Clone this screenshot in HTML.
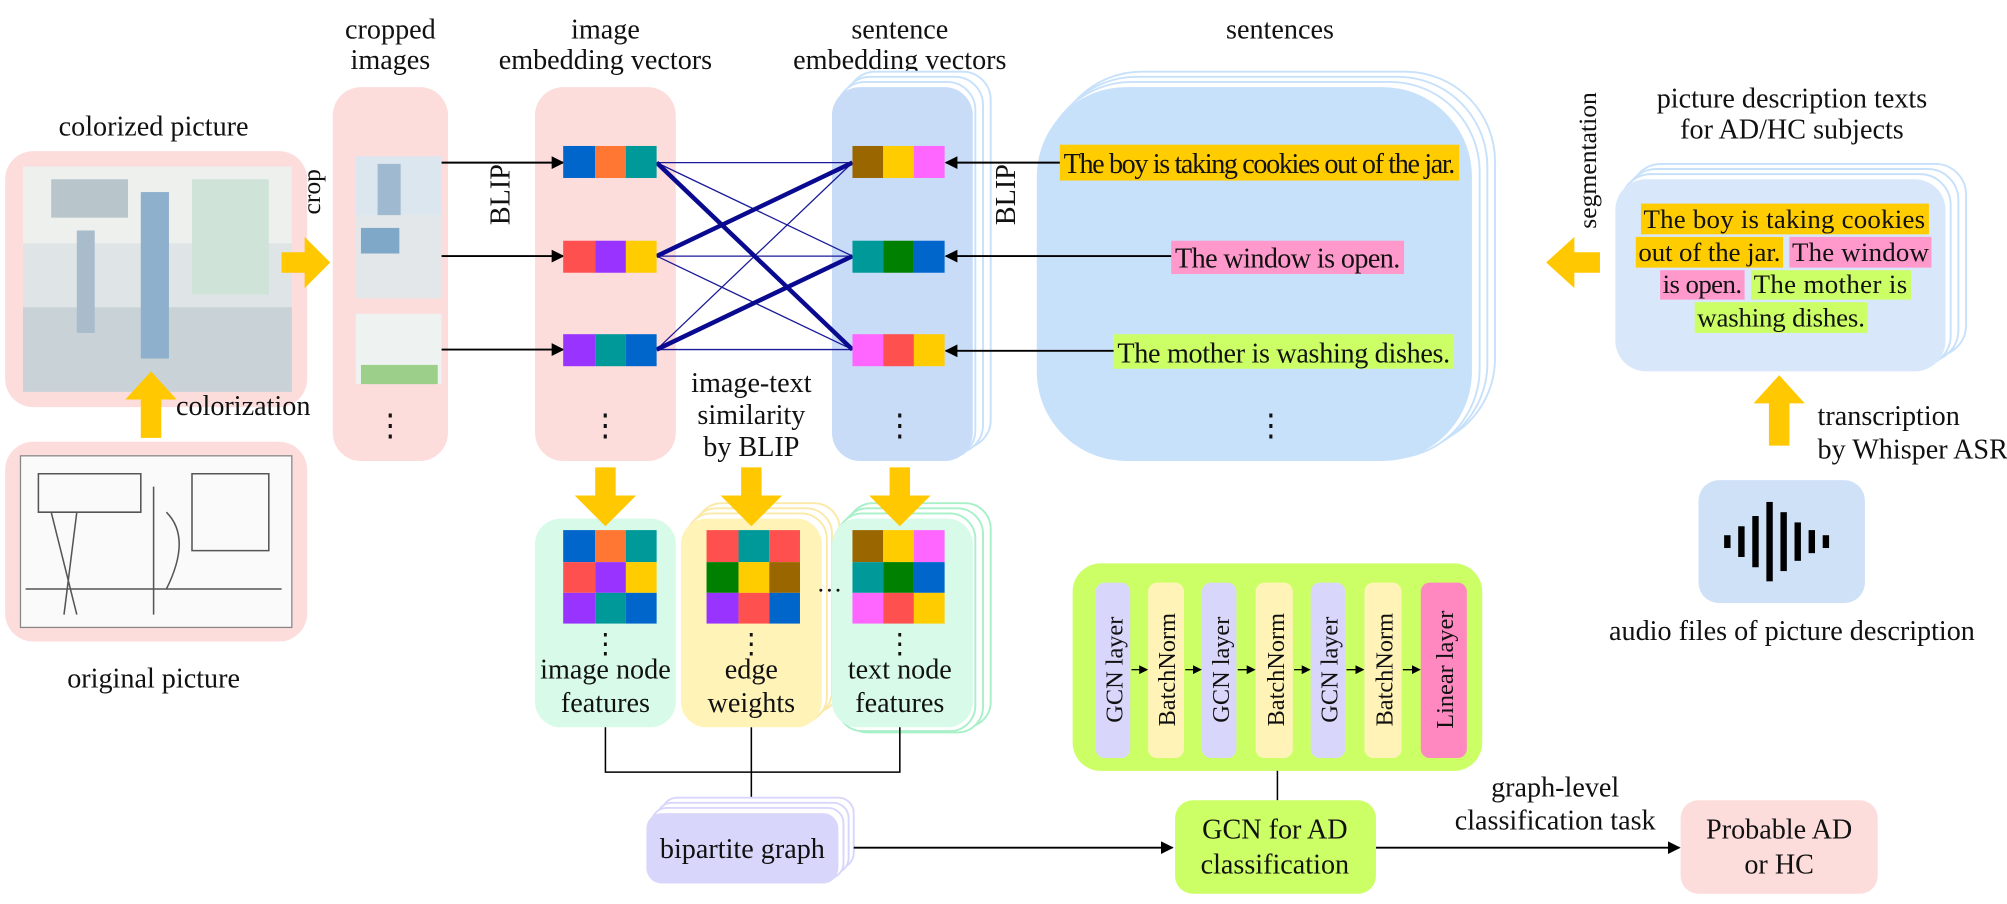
<!DOCTYPE html>
<html><head><meta charset="utf-8"><style>
body{margin:0;background:#fff}
svg{display:block}
text{font-family:"Liberation Serif",serif;font-size:22px;fill:#111}
</style></head><body>
<svg width="2007" height="904" viewBox="0 0 1568 706" preserveAspectRatio="none" xmlns="http://www.w3.org/2000/svg">
<defs>
<marker id="a" markerWidth="10" markerHeight="10" refX="9" refY="5" orient="auto" markerUnits="userSpaceOnUse"><path d="M0,0 L10,5 L0,10z" fill="#000"/></marker>
<marker id="s" markerWidth="7" markerHeight="7" refX="6" refY="3.5" orient="auto" markerUnits="userSpaceOnUse"><path d="M0,0 L7,3.5 L0,7z" fill="#000"/></marker>
</defs>

<!-- colorized picture -->
<text x="120" y="106" text-anchor="middle">colorized picture</text>
<rect x="4" y="118" width="236" height="200" rx="22" fill="#fddcdc"/>
<rect x="18" y="130" width="210" height="176" fill="#dfe4e6"/>
<rect x="18" y="130" width="210" height="60" fill="#eef0ee"/>
<rect x="40" y="140" width="60" height="30" fill="#b8c6cc"/>
<rect x="150" y="140" width="60" height="90" fill="#cfe3d8"/>
<rect x="18" y="240" width="210" height="66" fill="#c9d2d6"/>
<rect x="110" y="150" width="22" height="130" fill="#8fb0cc"/>
<rect x="60" y="180" width="14" height="80" fill="#a9bccc"/>
<text x="250" y="132" transform="rotate(-90 250 132)" text-anchor="end" style="font-size:20px">crop</text>
<path d="M220,197 h18 v-12 l20,20 l-20,20 v-12 h-18z" fill="#ffc800"/>

<!-- colorization -->
<path d="M110,342 v-30 h-12 l20,-22 l20,22 h-12 v30z" fill="#ffc800"/>
<text x="190" y="324" text-anchor="middle">colorization</text>

<!-- original -->
<rect x="4" y="345" width="236" height="156" rx="22" fill="#fddcdc"/>
<rect x="16" y="356" width="212" height="134" fill="#fafafa" stroke="#888" stroke-width="1"/>
<g stroke="#555" stroke-width="1.2" fill="none">
<path d="M30,370 h80 v30 h-80z M150,370 h60 v60 h-60z M20,460 h200 M40,400 l20,80 M60,400 l-10,80 M120,380 v100 M130,400 q20,20 0,60"/>
</g>
<text x="120" y="537" text-anchor="middle">original picture</text>

<!-- cropped images -->
<text x="305" y="30" text-anchor="middle">cropped</text>
<text x="305" y="54" text-anchor="middle">images</text>
<rect x="260" y="68" width="90" height="292" rx="22" fill="#fddcdc"/>
<rect x="278" y="122" width="67" height="65" fill="#dbe6ee"/><rect x="295" y="128" width="18" height="55" fill="#9fbad0"/>
<rect x="278" y="168" width="67" height="65" fill="#e3e7ea"/><rect x="282" y="178" width="30" height="20" fill="#7fa8c8"/>
<rect x="278" y="245" width="67" height="55" fill="#eef2f0"/><rect x="282" y="285" width="60" height="15" fill="#9ccf8a"/>
<text x="305" y="340" text-anchor="middle" style="font-size:24px">⋮</text>

<text x="398" y="152" transform="rotate(-90 398 152)" text-anchor="middle">BLIP</text>

<!-- image embedding -->
<text x="473" y="30" text-anchor="middle">image</text>
<text x="473" y="54" text-anchor="middle">embedding vectors</text>
<rect x="418" y="68" width="110" height="292" rx="22" fill="#fddcdc"/>
<g stroke="#000" stroke-width="1.5" marker-end="url(#a)">
<line x1="345" y1="127" x2="440" y2="127"/>
<line x1="345" y1="200" x2="440" y2="200"/>
<line x1="345" y1="273" x2="440" y2="273"/>
</g>

<!-- sentence embedding -->
<text x="703" y="30" text-anchor="middle">sentence</text>
<text x="703" y="54" text-anchor="middle">embedding vectors</text>
<g fill="#fff" stroke="#c8e1fb" stroke-width="1.5">
<rect x="662" y="56" width="112" height="294" rx="22"/>
<rect x="658" y="60" width="110" height="294" rx="22"/>
<rect x="654" y="64" width="108" height="294" rx="22"/>
</g>
<rect x="650" y="68" width="110" height="292" rx="22" fill="#c8dcf8"/>

<!-- similarity lines -->
<g stroke="#1a1a99" stroke-width="1">
<line x1="513" y1="127" x2="666" y2="127"/>
<line x1="513" y1="127" x2="666" y2="200"/>
<line x1="513" y1="200" x2="666" y2="200"/>
<line x1="513" y1="200" x2="666" y2="273"/>
<line x1="513" y1="273" x2="666" y2="273"/>
<line x1="513" y1="273" x2="666" y2="127"/>
</g>
<g stroke="#0a0a90" stroke-width="3.5">
<line x1="513" y1="127" x2="666" y2="273"/>
<line x1="513" y1="200" x2="666" y2="127"/>
<line x1="513" y1="273" x2="666" y2="200"/>
</g>
<g>
<rect x="440" y="114" width="25" height="25" fill="#0066cc"/><rect x="465" y="114" width="24" height="25" fill="#ff7733"/><rect x="489" y="114" width="24" height="25" fill="#009999"/>
<rect x="440" y="188" width="25" height="25" fill="#ff5050"/><rect x="465" y="188" width="24" height="25" fill="#9933ff"/><rect x="489" y="188" width="24" height="25" fill="#ffcc00"/>
<rect x="440" y="261" width="25" height="25" fill="#9933ff"/><rect x="465" y="261" width="24" height="25" fill="#009999"/><rect x="489" y="261" width="24" height="25" fill="#0066cc"/>
<rect x="666" y="114" width="24" height="25" fill="#996600"/><rect x="690" y="114" width="24" height="25" fill="#ffcc00"/><rect x="714" y="114" width="24" height="25" fill="#ff66ff"/>
<rect x="666" y="188" width="24" height="25" fill="#009999"/><rect x="690" y="188" width="24" height="25" fill="#008000"/><rect x="714" y="188" width="24" height="25" fill="#0066cc"/>
<rect x="666" y="261" width="24" height="25" fill="#ff66ff"/><rect x="690" y="261" width="24" height="25" fill="#ff5050"/><rect x="714" y="261" width="24" height="25" fill="#ffcc00"/>
</g>
<text x="473" y="340" text-anchor="middle" style="font-size:24px">⋮</text>
<text x="703" y="340" text-anchor="middle" style="font-size:24px">⋮</text>

<text x="793" y="152" transform="rotate(-90 793 152)" text-anchor="middle">BLIP</text>

<!-- sentences -->
<text x="1000" y="30" text-anchor="middle">sentences</text>
<g fill="#fff" stroke="#c8e1fb" stroke-width="1.5">
<rect x="822" y="56" width="346" height="294" rx="70"/>
<rect x="818" y="60" width="344" height="294" rx="70"/>
<rect x="814" y="64" width="342" height="294" rx="70"/>
</g>
<rect x="810" y="68" width="340" height="292" rx="70" fill="#c8e1fb"/>
<rect x="828" y="113" width="312" height="28" fill="#ffcc00"/>
<text x="831" y="135" textLength="306" lengthAdjust="spacing">The boy is taking cookies out of the jar.</text>
<rect x="915" y="188" width="182" height="26" fill="#ff99cc"/>
<text x="918" y="209" textLength="176" lengthAdjust="spacing">The window is open.</text>
<rect x="870" y="261" width="266" height="27" fill="#ccff66"/>
<text x="873" y="283" textLength="260" lengthAdjust="spacing">The mother is washing dishes.</text>
<text x="993" y="340" text-anchor="middle" style="font-size:24px">⋮</text>
<g stroke="#000" stroke-width="1.5" marker-end="url(#a)">
<line x1="828" y1="127" x2="739" y2="127"/>
<line x1="915" y1="200" x2="739" y2="200"/>
<line x1="870" y1="274" x2="739" y2="274"/>
</g>

<!-- segmentation -->
<text x="1247" y="72" transform="rotate(-90 1247 72)" text-anchor="end" style="font-size:20px">segmentation</text>
<path d="M1250,197 h-20 v-12 l-22,20 l22,20 v-12 h20z" fill="#ffc800"/>

<text x="1400" y="84" text-anchor="middle">picture description texts</text>
<text x="1400" y="108" text-anchor="middle">for AD/HC subjects</text>
<g fill="#fff" stroke="#c8e1fb" stroke-width="1.5">
<rect x="1274" y="128" width="262" height="150" rx="24"/>
<rect x="1270" y="132" width="260" height="150" rx="24"/>
<rect x="1266" y="136" width="258" height="150" rx="24"/>
</g>
<rect x="1262" y="140" width="258" height="150" rx="24" fill="#d8e8fa"/>
<rect x="1282" y="159" width="225" height="24" fill="#ffcc00"/>
<rect x="1278" y="185" width="115" height="24" fill="#ffcc00"/>
<rect x="1398" y="185" width="111" height="24" fill="#ff99cc"/>
<rect x="1297" y="211" width="66" height="23" fill="#ff99cc"/>
<rect x="1368" y="211" width="125" height="23" fill="#ccff66"/>
<rect x="1324" y="236" width="135" height="24" fill="#ccff66"/>
<g style="font-size:21px">
<text x="1284" y="178" textLength="220" lengthAdjust="spacing" style="font-size:21px">The boy is taking cookies</text>
<text x="1280" y="204" textLength="111" lengthAdjust="spacing" style="font-size:21px">out of the jar.</text>
<text x="1400" y="204" textLength="107" lengthAdjust="spacing" style="font-size:21px">The window</text>
<text x="1299" y="229" textLength="62" lengthAdjust="spacing" style="font-size:21px">is open.</text>
<text x="1370" y="229" textLength="120" lengthAdjust="spacing" style="font-size:21px">The mother is</text>
<text x="1326" y="255" textLength="131" lengthAdjust="spacing" style="font-size:21px">washing dishes.</text>
</g>

<path d="M1382,348 v-33 h-12 l20,-22 l20,22 h-12 v33z" fill="#ffc800"/>
<text x="1420" y="332">transcription</text>
<text x="1420" y="358">by Whisper ASR</text>
<rect x="1327" y="375" width="130" height="96" rx="16" fill="#cfe1f7"/>
<g fill="#000">
<rect x="1347" y="418" width="5" height="10"/><rect x="1358" y="411" width="5" height="24"/><rect x="1369" y="403" width="5" height="40"/><rect x="1380" y="392" width="5" height="62"/><rect x="1391" y="400" width="5" height="46"/><rect x="1402" y="408" width="5" height="30"/><rect x="1413" y="414" width="5" height="18"/><rect x="1424" y="418" width="5" height="10"/>
</g>
<text x="1400" y="500" text-anchor="middle">audio files of picture description</text>

<text x="587" y="306" text-anchor="middle">image-text</text>
<text x="587" y="331" text-anchor="middle">similarity</text>
<text x="587" y="356" text-anchor="middle">by BLIP</text>

<!-- node feature boxes -->
<rect x="418" y="405" width="110" height="163" rx="20" fill="#d8fae8"/>
<g fill="#fff" stroke="#fbe9a8" stroke-width="1.5">
<rect x="544" y="393" width="112" height="163" rx="20"/>
<rect x="540" y="397" width="110" height="163" rx="20"/>
<rect x="536" y="401" width="110" height="163" rx="20"/>
</g>
<rect x="532" y="405" width="110" height="163" rx="20" fill="#fff3b8"/>
<g fill="#fff" stroke="#a8f0c8" stroke-width="1.5">
<rect x="662" y="393" width="112" height="175" rx="20"/>
<rect x="658" y="397" width="110" height="175" rx="20"/>
<rect x="654" y="401" width="108" height="170" rx="20"/>
</g>
<rect x="650" y="405" width="110" height="163" rx="20" fill="#d8fae8"/>

<path d="M465,365 h16 v22 h16 l-24,24 l-24,-24 h16z" fill="#ffc800"/>
<path d="M579,365 h16 v22 h16 l-24,24 l-24,-24 h16z" fill="#ffc800"/>
<path d="M695,365 h16 v22 h16 l-24,24 l-24,-24 h16z" fill="#ffc800"/>

<g>
<rect x="440" y="414" width="25" height="25" fill="#0066cc"/><rect x="465" y="414" width="24" height="25" fill="#ff7733"/><rect x="489" y="414" width="24" height="25" fill="#009999"/>
<rect x="440" y="439" width="25" height="24" fill="#ff5050"/><rect x="465" y="439" width="24" height="24" fill="#9933ff"/><rect x="489" y="439" width="24" height="24" fill="#ffcc00"/>
<rect x="440" y="463" width="25" height="24" fill="#9933ff"/><rect x="465" y="463" width="24" height="24" fill="#009999"/><rect x="489" y="463" width="24" height="24" fill="#0066cc"/>

<rect x="552" y="414" width="25" height="25" fill="#ff5050"/><rect x="577" y="414" width="24" height="25" fill="#009999"/><rect x="601" y="414" width="24" height="25" fill="#ff5050"/>
<rect x="552" y="439" width="25" height="24" fill="#008000"/><rect x="577" y="439" width="24" height="24" fill="#ffcc00"/><rect x="601" y="439" width="24" height="24" fill="#996600"/>
<rect x="552" y="463" width="25" height="24" fill="#9933ff"/><rect x="577" y="463" width="24" height="24" fill="#ff5050"/><rect x="601" y="463" width="24" height="24" fill="#0066cc"/>

<rect x="666" y="414" width="24" height="25" fill="#996600"/><rect x="690" y="414" width="24" height="25" fill="#ffcc00"/><rect x="714" y="414" width="24" height="25" fill="#ff66ff"/>
<rect x="666" y="439" width="24" height="24" fill="#009999"/><rect x="690" y="439" width="24" height="24" fill="#008000"/><rect x="714" y="439" width="24" height="24" fill="#0066cc"/>
<rect x="666" y="463" width="24" height="24" fill="#ff66ff"/><rect x="690" y="463" width="24" height="24" fill="#ff5050"/><rect x="714" y="463" width="24" height="24" fill="#ffcc00"/>
</g>
<text x="638" y="462" style="font-size:20px">…</text>
<text x="473" y="510" text-anchor="middle">⋮</text>
<text x="587" y="510" text-anchor="middle">⋮</text>
<text x="703" y="510" text-anchor="middle">⋮</text>
<text x="473" y="530" text-anchor="middle">image node</text>
<text x="473" y="556" text-anchor="middle">features</text>
<text x="587" y="530" text-anchor="middle">edge</text>
<text x="587" y="556" text-anchor="middle">weights</text>
<text x="703" y="530" text-anchor="middle">text node</text>
<text x="703" y="556" text-anchor="middle">features</text>

<path d="M473,568 V603 H703 V568" fill="none" stroke="#000" stroke-width="1.2"/>
<line x1="587" y1="568" x2="587" y2="634" stroke="#000" stroke-width="1.2" marker-end="url(#a)"/>

<g fill="#fff" stroke="#d9d6fb" stroke-width="1.5">
<rect x="517" y="623" width="150" height="55" rx="12"/>
<rect x="513" y="627" width="150" height="55" rx="12"/>
<rect x="509" y="631" width="150" height="55" rx="12"/>
</g>
<rect x="505" y="635" width="150" height="55" rx="12" fill="#d9d6fb"/>
<text x="580" y="670" text-anchor="middle">bipartite graph</text>
<line x1="667" y1="662" x2="916" y2="662" stroke="#000" stroke-width="1.5" marker-end="url(#a)"/>

<rect x="838" y="440" width="320" height="162" rx="22" fill="#ccff66"/>
<rect x="856" y="455" width="27" height="137" rx="7" fill="#d9d6fb"/>
<rect x="897" y="455" width="28" height="137" rx="7" fill="#fff3b8"/>
<rect x="939" y="455" width="27" height="137" rx="7" fill="#d9d6fb"/>
<rect x="981" y="455" width="29" height="137" rx="7" fill="#fff3b8"/>
<rect x="1024" y="455" width="27" height="137" rx="7" fill="#d9d6fb"/>
<rect x="1066" y="455" width="29" height="137" rx="7" fill="#fff3b8"/>
<rect x="1110" y="455" width="36" height="137" rx="7" fill="#ff88c0"/>
<g stroke="#000" stroke-width="1" marker-end="url(#s)">
<line x1="884" y1="523" x2="896" y2="523"/>
<line x1="926" y1="523" x2="938" y2="523"/>
<line x1="967" y1="523" x2="980" y2="523"/>
<line x1="1011" y1="523" x2="1023" y2="523"/>
<line x1="1052" y1="523" x2="1065" y2="523"/>
<line x1="1096" y1="523" x2="1109" y2="523"/>
</g>
<text x="877" y="523" transform="rotate(-90 877 523)" text-anchor="middle" style="font-size:19px">GCN layer</text>
<text x="918" y="523" transform="rotate(-90 918 523)" text-anchor="middle" style="font-size:19px">BatchNorm</text>
<text x="960" y="523" transform="rotate(-90 960 523)" text-anchor="middle" style="font-size:19px">GCN layer</text>
<text x="1003" y="523" transform="rotate(-90 1003 523)" text-anchor="middle" style="font-size:19px">BatchNorm</text>
<text x="1045" y="523" transform="rotate(-90 1045 523)" text-anchor="middle" style="font-size:19px">GCN layer</text>
<text x="1088" y="523" transform="rotate(-90 1088 523)" text-anchor="middle" style="font-size:19px">BatchNorm</text>
<text x="1135" y="523" transform="rotate(-90 1135 523)" text-anchor="middle" style="font-size:19px">Linear layer</text>
<line x1="998" y1="602" x2="998" y2="625" stroke="#000" stroke-width="1.2"/>
<rect x="918" y="625" width="157" height="73" rx="14" fill="#ccff66"/>
<text x="996" y="655" text-anchor="middle">GCN for AD</text>
<text x="996" y="682" text-anchor="middle">classification</text>
<line x1="1075" y1="662" x2="1312" y2="662" stroke="#000" stroke-width="1.5" marker-end="url(#a)"/>
<text x="1215" y="622" text-anchor="middle">graph-level</text>
<text x="1215" y="648" text-anchor="middle">classification task</text>
<rect x="1313" y="625" width="154" height="73" rx="14" fill="#fddcdc"/>
<text x="1390" y="655" text-anchor="middle">Probable AD</text>
<text x="1390" y="682" text-anchor="middle">or HC</text>
</svg>
</body></html>
